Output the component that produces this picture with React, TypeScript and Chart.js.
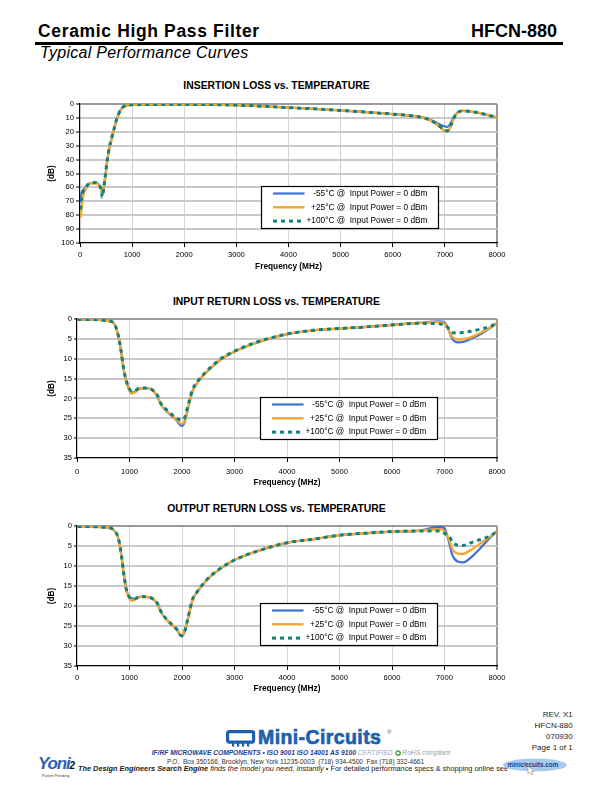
import React, { useEffect, useRef } from "react";
import { Chart, registerables } from "chart.js";

Chart.register(...registerables);

const FONT = "'Liberation Sans', Arial, Helvetica, sans-serif";

// ---------- series meta ----------
const SERIES_LABELS = [
  "-55°C @  Input Power = 0 dBm",
  "+25°C @  Input Power = 0 dBm",
  "+100°C @  Input Power = 0 dBm",
];
const SERIES_COLORS = ["#3D6FD9", "#F2A830", "#12807B"];
const SERIES_WIDTHS = [2.2, 2.4, 3];
const SERIES_DASH: number[][] = [[], [], [4, 4]];

const CHART_TITLES = [
  "INSERTION LOSS vs. TEMPERATURE",
  "INPUT RETURN LOSS vs. TEMPERATURE",
  "OUTPUT RETURN LOSS vs. TEMPERATURE",
];
const X_TITLE = "Frequency (MHz)";
const Y_TITLE = "(dB)";

const X_MIN = 0;
const X_MAX = 8000;
const X_STEP = 1000;
const IL_Y_MAX = 100;
const IL_Y_STEP = 10;
const RL_Y_MAX = 35;
const RL_Y_STEP = 5;

// ---------- insertion loss (dB) ----------
const IL_FREQ = [10, 30, 60, 100, 150, 200, 300, 350, 400, 430, 450, 480, 520, 560, 600, 650, 700, 750, 800, 850, 900, 1000, 1500, 2000, 2500, 3000, 3500, 4000, 4500, 5000, 5500, 6000, 6500, 6650, 6800, 6900, 7000, 7050, 7100, 7150, 7200, 7250, 7350, 7500, 7700, 7850, 8000];
const IL_M55 = [71, 64, 62, 60.5, 58, 57, 56.6, 57.5, 60.5, 65, 62, 53.5, 41.5, 32, 26, 18.6, 11.5, 6.5, 3, 1.7, 1, 0.5, 0.4, 0.3, 0.4, 0.8, 1.6, 2.6, 3.5, 4.6, 5.9, 7.3, 9.2, 10.5, 12.8, 14.8, 16.2, 16.4, 14.5, 11.0, 7.8, 5.9, 4.9, 5.4, 6.8, 8.2, 9.7];
const IL_P25 = [82, 75, 66, 62, 58.5, 57.2, 56.8, 57.8, 61, 65.5, 62.5, 54, 42, 32.5, 26.5, 19, 12, 7, 3.3, 1.8, 1.1, 0.5, 0.4, 0.3, 0.4, 0.8, 1.6, 2.6, 3.5, 4.6, 5.9, 7.3, 9.2, 10.7, 13.5, 16.5, 19.5, 19.8, 17, 12.5, 8.5, 6.2, 4.9, 5.4, 6.8, 8.2, 9.7];
const IL_P100 = [76, 68, 63, 61, 58, 57, 56.6, 57.5, 61, 67, 62, 53, 41, 31.5, 25.5, 18.3, 11.2, 6.3, 2.9, 1.6, 1, 0.5, 0.4, 0.3, 0.4, 0.8, 1.6, 2.6, 3.5, 4.6, 5.9, 7.3, 9.2, 10.6, 13.2, 16, 18.9, 19.3, 16.5, 12, 8.2, 6, 4.9, 5.4, 6.8, 8.2, 9.7];

// ---------- input return loss (dB) ----------
const IRL_FREQ = [10, 300, 500, 600, 700, 780, 830, 890, 940, 990, 1050, 1100, 1200, 1300, 1430, 1530, 1600, 1720, 1900, 1990, 2050, 2130, 2200, 2290, 2480, 2740, 3000, 3500, 4000, 4500, 5000, 5500, 6000, 6500, 6900, 7000, 7050, 7100, 7150, 7250, 7350, 7500, 7700, 7900, 8000];
const IRL_M55 = [0.1, 0.15, 0.3, 0.5, 1.0, 3.9, 7.3, 12.8, 15.7, 17.6, 18.5, 18.3, 17.5, 17.4, 17.8, 19.5, 21.6, 23.4, 25.6, 26.9, 26.0, 21.6, 18.2, 16.1, 13.2, 10.2, 8.2, 5.6, 3.8, 2.85, 2.4, 2.0, 1.5, 1.0, 0.6, 0.85, 1.8, 3.5, 5.0, 5.9, 5.8, 5.0, 3.7, 2.0, 1.0];
const IRL_P25 = [0.1, 0.15, 0.3, 0.5, 1.0, 3.9, 7.3, 12.8, 15.8, 17.9, 18.8, 18.5, 17.6, 17.4, 17.8, 19.4, 21.5, 23.3, 25.4, 26.4, 25.7, 21.6, 18.2, 16.1, 13.2, 10.2, 8.2, 5.6, 3.8, 2.85, 2.4, 2.0, 1.5, 1.0, 0.75, 1.2, 2.0, 3.4, 4.5, 5.2, 5.1, 4.6, 3.4, 1.9, 1.0];
const IRL_P100 = [0.1, 0.15, 0.3, 0.5, 1.0, 3.8, 7.2, 12.6, 15.6, 17.4, 18.2, 18.0, 17.4, 17.4, 17.8, 19.2, 21.3, 23.0, 25.0, 25.5, 24.8, 21.0, 17.8, 15.8, 13.0, 10.0, 8.1, 5.5, 3.8, 2.85, 2.4, 2.0, 1.5, 1.1, 1.2, 1.6, 2.0, 2.7, 3.4, 3.5, 3.4, 3.1, 2.5, 1.7, 1.0];

// ---------- output return loss (dB) ----------
const ORL_FREQ = [10, 300, 500, 600, 700, 780, 830, 890, 940, 990, 1050, 1100, 1200, 1300, 1430, 1530, 1600, 1720, 1900, 1990, 2050, 2130, 2200, 2290, 2480, 2740, 3000, 3500, 4000, 4500, 5000, 5500, 6000, 6500, 6900, 7000, 7050, 7100, 7150, 7250, 7350, 7500, 7700, 7900, 8000];
const ORL_M55 = [0.1, 0.15, 0.3, 0.4, 1.0, 2.8, 6.0, 11.9, 16.0, 17.7, 18.1, 18.3, 17.7, 17.7, 18.1, 19.4, 21.5, 23.6, 25.9, 27.6, 26.5, 22.3, 18.5, 16.5, 13.4, 10.6, 8.5, 6.0, 4.2, 3.3, 2.3, 1.8, 1.4, 1.2, 0.2, 0.6, 2.3, 4.8, 7.3, 8.9, 9.1, 7.9, 5.3, 2.5, 1.2];
const ORL_P25 = [0.1, 0.15, 0.3, 0.4, 1.0, 2.8, 6.0, 11.9, 16.0, 17.9, 18.7, 18.4, 17.7, 17.7, 18.1, 19.4, 21.5, 23.6, 25.9, 27.4, 26.4, 22.3, 18.5, 16.5, 13.4, 10.6, 8.5, 6.0, 4.2, 3.3, 2.3, 1.8, 1.4, 1.2, 0.8, 1.2, 2.3, 3.9, 5.8, 6.9, 7.0, 6.0, 4.2, 2.3, 1.2];
const ORL_P100 = [0.1, 0.15, 0.3, 0.4, 1.0, 2.7, 5.8, 11.7, 15.9, 17.6, 18.1, 18.2, 17.6, 17.7, 18.1, 19.3, 21.4, 23.5, 25.8, 27.4, 26.3, 22.0, 18.3, 16.4, 13.3, 10.5, 8.5, 6.0, 4.2, 3.3, 2.3, 1.8, 1.4, 1.25, 1.25, 1.8, 2.3, 2.8, 3.9, 4.8, 4.9, 4.2, 3.3, 2.3, 1.2];

// ---------- page text ----------
const HEADER_LEFT = "Ceramic High Pass Filter";
const HEADER_RIGHT = "HFCN-880";
const SUBTITLE = "Typical Performance Curves";
const REV_LINES = ["REV. X1", "HFCN-880", "070930", "Page 1 of 1"];

type Layout = {
  top: number;
  plotLeft: number;
  plotTop: number;
  plotBottom: number;
  titleY: number;
  legendDx: number;
  legendDy: number;
  xTickPad: number;
  xTitlePad: number;
  yTickLen: number;
  yTickPad: number;
};

const CANVAS_LEFT = 20;
const CANVAS_W = 510;
const PLOT_RIGHT = 497;
const PAD_TOP = 12;
const X_AXIS_H = 36;

const LAYOUTS: Layout[] = [
  { top: 92, plotLeft: 80, plotTop: 104, plotBottom: 243, titleY: 86, legendDx: 181, legendDy: 82, xTickPad: 3.4, xTitlePad: 7.3, yTickLen: 4, yTickPad: 2 },
  { top: 307, plotLeft: 77, plotTop: 319, plotBottom: 458, titleY: 302.3, legendDx: 183, legendDy: 78, xTickPad: 5, xTitlePad: 6.3, yTickLen: 3, yTickPad: 2 },
  { top: 514, plotLeft: 77, plotTop: 526, plotBottom: 666, titleY: 509.3, legendDx: 183, legendDy: 77, xTickPad: 3, xTitlePad: 8, yTickLen: 3, yTickPad: 2 },
];

type Spec = {
  freq: number[];
  series: number[][];
  yMax: number;
  yStep: number;
};

const SPECS: Spec[] = [
  { freq: IL_FREQ, series: [IL_M55, IL_P25, IL_P100], yMax: IL_Y_MAX, yStep: IL_Y_STEP },
  { freq: IRL_FREQ, series: [IRL_M55, IRL_P25, IRL_P100], yMax: RL_Y_MAX, yStep: RL_Y_STEP },
  { freq: ORL_FREQ, series: [ORL_M55, ORL_P25, ORL_P100], yMax: RL_Y_MAX, yStep: RL_Y_STEP },
];

function makeLegendPlugin(dx: number, dy: number) {
  return {
    id: "boxLegend",
    afterDraw(chart: any) {
      const { ctx, chartArea } = chart;
      const x = Math.round(chartArea.left + dx) + 0.5;
      const y = Math.round(chartArea.top + dy) + 0.5;
      const w = 177;
      const h = 42;
      ctx.save();
      ctx.fillStyle = "#ffffff";
      ctx.fillRect(x, y, w, h);
      ctx.strokeStyle = "#000000";
      ctx.lineWidth = 1.2;
      ctx.strokeRect(x, y, w, h);
      chart.data.datasets.forEach((ds: any, i: number) => {
        const cy = y + 7 + i * 13.8;
        ctx.beginPath();
        ctx.strokeStyle = ds.borderColor;
        ctx.lineWidth = ds.borderWidth;
        ctx.setLineDash(ds.borderDash || []);
        ctx.moveTo(x + 11.5, cy);
        ctx.lineTo(x + 43, cy);
        ctx.stroke();
        ctx.setLineDash([]);
        ctx.fillStyle = "#000000";
        ctx.font = `8.3px ${FONT}`;
        ctx.textAlign = "right";
        ctx.textBaseline = "middle";
        ctx.fillText(ds.label, x + 166, cy);
      });
      ctx.restore();
    },
  };
}

function PerfChart({ spec, layout }: { spec: Spec; layout: Layout }) {
  const ref = useRef<HTMLCanvasElement>(null);
  const height = layout.plotBottom - layout.plotTop + PAD_TOP + X_AXIS_H;
  useEffect(() => {
    if (!ref.current) return;
    const yW = layout.plotLeft - CANVAS_LEFT;
    const padRight = CANVAS_W - (PLOT_RIGHT - CANVAS_LEFT);
    const datasets = spec.series.map((vals, i) => ({
      label: SERIES_LABELS[i],
      data: spec.freq.map((f, j) => ({ x: f, y: vals[j] })),
      borderColor: SERIES_COLORS[i],
      backgroundColor: SERIES_COLORS[i],
      borderWidth: SERIES_WIDTHS[i],
      borderDash: SERIES_DASH[i],
      pointRadius: 0,
      fill: false,
      cubicInterpolationMode: "monotone" as const,
      order: 3 - i,
    }));
    const chart = new Chart(ref.current, {
      type: "line",
      data: { datasets },
      options: {
        responsive: false,
        animation: false,
        devicePixelRatio: 1,
        layout: { padding: { left: 0, right: padRight, top: PAD_TOP, bottom: 0 } },
        plugins: {
          legend: { display: false },
          tooltip: { enabled: false },
          title: { display: false },
        },
        scales: {
          x: {
            type: "linear",
            min: X_MIN,
            max: X_MAX,
            ticks: {
              stepSize: X_STEP,
              font: { family: FONT, size: 7.6 },
              color: "#000",
              padding: layout.xTickPad,
              maxRotation: 0,
              callback: (v: any) => String(v),
            },
            grid: {
              color: (c: any) =>
                c.tick && c.tick.value === X_MIN
                  ? "rgba(0,0,0,0)"
                  : c.tick && c.tick.value === X_MAX
                  ? "#9a9a9a"
                  : "#d3d3d3",
              lineWidth: (c: any) => (c.tick && c.tick.value === X_MAX ? 2 : 1),
              tickLength: 4,
              tickColor: "#000",
              tickWidth: 1,
              drawTicks: true,
            },
            border: { color: "#000", width: 1.2 },
            title: {
              display: true,
              text: X_TITLE,
              font: { family: FONT, size: 8.3, weight: "bold" },
              color: "#000",
              padding: { top: 0, bottom: layout.xTitlePad },
            },
            afterFit: (s: any) => {
              s.height = X_AXIS_H;
            },
          },
          y: {
            type: "linear",
            min: 0,
            max: spec.yMax,
            reverse: true,
            ticks: {
              stepSize: spec.yStep,
              font: { family: FONT, size: 7.6 },
              color: "#000",
              padding: layout.yTickPad,
            },
            grid: {
              color: (c: any) =>
                c.tick && c.tick.value === 0
                  ? "#9a9a9a"
                  : c.tick && c.tick.value === spec.yMax
                  ? "rgba(0,0,0,0)"
                  : "#c9c9c9",
              lineWidth: 2,
              tickLength: layout.yTickLen,
              tickColor: "#000",
              tickWidth: 1,
              drawTicks: true,
            },
            border: { color: "#000", width: 1.2 },
            title: {
              display: true,
              text: Y_TITLE,
              font: { family: FONT, size: 8.3, weight: "bold" },
              color: "#000",
              padding: { top: 27, bottom: 0 },
            },
            afterFit: (s: any) => {
              s.width = yW;
            },
          },
        },
      } as any,
      plugins: [makeLegendPlugin(layout.legendDx, layout.legendDy)],
    });
    return () => chart.destroy();
  }, []);
  return (
    <canvas
      ref={ref}
      width={CANVAS_W}
      height={height}
      style={{ position: "absolute", left: CANVAS_LEFT, top: layout.top, width: CANVAS_W, height }}
    />
  );
}

const abs = (s: React.CSSProperties): React.CSSProperties => ({ position: "absolute", whiteSpace: "pre", fontFamily: FONT, ...s });

export default function App() {
  return (
    <div style={{ position: "absolute", left: 0, top: 0, width: 608, height: 796, background: "#fff", overflow: "hidden", fontFamily: FONT }}>
      {/* header */}
      <div style={abs({ left: 38, top: 20.8, fontSize: 17.5, lineHeight: "20px", fontWeight: "bold", letterSpacing: 0.65, color: "#000" })}>{HEADER_LEFT}</div>
      <div style={abs({ right: 51, top: 20.5, fontSize: 18, lineHeight: "20px", fontWeight: "bold", color: "#000" })}>{HEADER_RIGHT}</div>
      <div style={abs({ left: 35, top: 42, width: 528, height: 3, background: "#000" })} />
      <div style={abs({ left: 40, top: 43, fontSize: 16, lineHeight: "20px", fontStyle: "italic", letterSpacing: 0.3, color: "#000" })}>{SUBTITLE}</div>

      {/* chart titles */}
      {LAYOUTS.map((l, i) => (
        <div key={"t" + i} style={abs({ left: 0, width: 553, top: l.titleY - 6, lineHeight: "12px", fontSize: 10.4, fontWeight: "bold", textAlign: "center", color: "#000" })}>
          {CHART_TITLES[i]}
        </div>
      ))}

      {/* charts */}
      {SPECS.map((s, i) => (
        <PerfChart key={"c" + i} spec={s} layout={LAYOUTS[i]} />
      ))}

      {/* footer: revision block */}
      <div style={abs({ right: 35.3, top: 708.5, fontSize: 8, lineHeight: "11px", textAlign: "right", color: "#222" })}>
        {REV_LINES.join("\n")}
      </div>

      {/* Mini-Circuits logo */}
      <svg style={{ position: "absolute", left: 226, top: 730 }} width={30} height={18} viewBox="0 0 30 18">
        <rect x={1.6} y={1.6} width={26} height={10.5} rx={1.5} fill="none" stroke="#1F5FAF" strokeWidth={3.2} />
        <rect x={6} y={13} width={2.2} height={3.6} fill="#1F5FAF" />
        <rect x={11} y={13} width={2.2} height={3.6} fill="#1F5FAF" />
        <rect x={16} y={13} width={2.2} height={3.6} fill="#1F5FAF" />
        <rect x={21} y={13} width={2.2} height={3.6} fill="#1F5FAF" />
      </svg>
      <div style={abs({ left: 258, top: 726.5, fontSize: 19.5, lineHeight: "20px", fontWeight: "bold", letterSpacing: 0.4, color: "#1F5FAF", WebkitTextStroke: "0.7px #1F5FAF" } as any)}>Mini-Circuits</div>
      <div style={abs({ left: 387, top: 729, fontSize: 6, lineHeight: "7px", color: "#666" })}>®</div>

      {/* footer row 1 */}
      <div style={abs({ left: 151.7, top: 749.3, fontSize: 6.65, lineHeight: "8px" })}>
        <span style={{ fontWeight: "bold", fontStyle: "italic", color: "#1C3C8E" }}>IF/RF MICROWAVE COMPONENTS • ISO 9001 ISO 14001 AS 9100 </span>
        <span style={{ fontStyle: "italic", color: "#9BA7C9" }}>CERTIFIED </span>
        <svg width={6} height={6} viewBox="0 0 6 6" style={{ verticalAlign: "-0.5px" }}>
          <circle cx={3} cy={3} r={2.2} fill="none" stroke="#3BA03B" strokeWidth={1.3} />
        </svg>
        <span style={{ fontStyle: "italic", color: "#9a9a9a" }}> RoHS compliant</span>
      </div>
      {/* footer row 2 */}
      <div style={abs({ left: 167, top: 757.7, fontSize: 6.55, lineHeight: "8px", color: "#333" })}>
        {"P.O.  Box 350166, Brooklyn, New York 11235-0003  (718) 934-4500  Fax (718) 332-4661"}
      </div>
      {/* footer row 3 */}
      <div style={abs({ left: 78, top: 765.3, fontSize: 7.35, lineHeight: "8px", color: "#222" })}>
        <span style={{ fontWeight: "bold", fontStyle: "italic" }}>The Design Engineers Search Engine </span>
        <span style={{ fontStyle: "italic" }}>finds the model you need, Instantly </span>
        <span>• For detailed performance specs &amp; shopping online see</span>
      </div>

      {/* Yoni2 logo */}
      <div style={abs({ left: 38, top: 755, fontSize: 17, lineHeight: "18px", fontWeight: "bold", fontStyle: "italic", letterSpacing: -1.2, color: "#2B5FB4" })}>
        Yoni<span style={{ fontSize: 10, color: "#111", letterSpacing: 0 }}>2</span>
      </div>
      <div style={abs({ left: 42, top: 773, fontSize: 4, lineHeight: "5px", color: "#444" })}>Patent Pending</div>

      {/* minicircuits.com badge */}
      <svg style={{ position: "absolute", left: 502, top: 757 }} width={66} height={18} viewBox="0 0 66 18">
        <ellipse cx={33} cy={8} rx={32} ry={6.5} fill="#A9CBEB" />
        <text x={31} y={10} textAnchor="middle" fontFamily={FONT} fontSize={6.4} fontWeight="bold" fill="#1C3C8E">minicircuits.com</text>
        <path d="M26 9 L26 17 L28 15 L30 18 L31 17.4 L29.5 14.6 L32 14.4 Z" fill="#fff" stroke="#777" strokeWidth={0.5} />
      </svg>
    </div>
  );
}
